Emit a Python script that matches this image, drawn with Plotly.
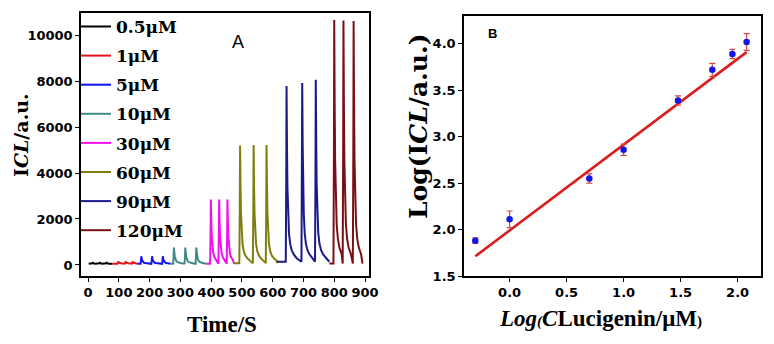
import plotly.graph_objects as go

# ---------------- Panel A data ----------------
series_names = ["0.5\u03bcM", "1\u03bcM", "5\u03bcM", "10\u03bcM", "30\u03bcM", "60\u03bcM", "90\u03bcM", "120\u03bcM"]
series_colors = ["#000000", "#e3141c", "#1010f0", "#3f8a84", "#f010f0", "#7f7f10", "#1a1a8a", "#7a1016"]
seg_start = [2, 78, 160, 268, 385, 475, 614, 784]
seg_end = [78, 160, 268, 385, 475, 614, 784, 892]
base_level = [50, 55, 50, 50, 50, 80, 140, 60]
peak_times = [
    [15, 38, 60],
    [98, 122, 145],
    [173, 208, 243],
    [279, 316, 352],
    [399, 426, 453],
    [494, 538, 580],
    [645, 696, 740],
    [800, 830, 863],
]
peak_heights = [
    [95, 95, 95],
    [150, 150, 150],
    [380, 380, 380],
    [760, 760, 760],
    [2850, 2850, 2850],
    [5200, 5220, 5220],
    [7780, 7920, 8060],
    [10660, 10630, 10610],
]
# peak profile (offset in s, fraction of peak above baseline)
rise_offsets = [-2.5, -1.0, 0.0]
rise_fracs = [0.0, 0.45, 1.0]
decay_offsets = [1.5, 3, 5, 8, 12, 17, 24, 33]
decay_fracs = [0.65, 0.42, 0.27, 0.16, 0.1, 0.065, 0.04, 0.02]

# ---------------- Panel B data ----------------
log_conc = [-0.301, 0.0, 0.699, 1.0, 1.477, 1.778, 1.954, 2.079]
log_icl = [1.88, 2.11, 2.55, 2.86, 3.39, 3.72, 3.89, 4.02]
log_icl_err = [0.03, 0.09, 0.05, 0.06, 0.05, 0.07, 0.05, 0.09]
fit_slope = 0.924
fit_intercept = 1.99

W, H = 774, 344

fig = go.Figure()

for i, name in enumerate(series_names):
    xs = [seg_start[i]]
    ys = [base_level[i]]
    pts = peak_times[i]
    for j, tp in enumerate(pts):
        amp = peak_heights[i][j] - base_level[i]
        nxt = pts[j + 1] - 3 if j + 1 < len(pts) else seg_end[i]
        for o, f in zip(rise_offsets, rise_fracs):
            xs.append(tp + o)
            ys.append(base_level[i] + amp * f)
        for o, f in zip(decay_offsets, decay_fracs):
            if tp + o < nxt:
                xs.append(tp + o)
                ys.append(base_level[i] + amp * f)
    xs.append(seg_end[i])
    ys.append(base_level[i])
    fig.add_trace(go.Scatter(
        x=xs, y=ys, mode="lines", name=name, legendgroup=name,
        line=dict(color=series_colors[i], width=2),
        xaxis="x", yaxis="y",
    ))

fit_x = [log_conc[0], log_conc[-1]]
fit_y = [fit_intercept + fit_slope * v for v in fit_x]
fig.add_trace(go.Scatter(
    x=fit_x, y=fit_y, mode="lines", showlegend=False,
    line=dict(color="#dc1c1c", width=2.6), xaxis="x2", yaxis="y2",
))
fig.add_trace(go.Scatter(
    x=log_conc, y=log_icl, mode="markers", showlegend=False,
    marker=dict(color="#1515e8", size=6.5),
    error_y=dict(type="data", array=log_icl_err, color="#d04a4a", thickness=1.2, width=3),
    xaxis="x2", yaxis="y2",
))

tickfont = dict(family="DejaVu Sans", size=13, color="black", weight="bold")
axis_common = dict(showline=True, linecolor="black", linewidth=1.5, mirror=True,
                   ticks="outside", ticklen=4, tickwidth=1.3, tickcolor="black",
                   showgrid=False, zeroline=False, tickfont=tickfont, automargin=False)


def px(xp, yp):
    return xp / W, 1 - yp / H


annots = []
x0, y0 = px(21, 135)
annots.append(dict(text="I<i>CL</i>/a.u.", x=x0, y=y0, textangle=-90,
                   font=dict(family="DejaVu Serif", size=19, color="black", weight="bold")))
x0, y0 = px(418, 126)
annots.append(dict(text="Log(I<i>CL</i>/a.u.)", x=x0, y=y0, textangle=-90,
                   font=dict(family="DejaVu Serif", size=25, color="black", weight="bold")))
x0, y0 = px(222, 324)
annots.append(dict(text="Time/S", x=x0, y=y0,
                   font=dict(family="Liberation Serif", size=23, color="black", weight="bold")))
x0, y0 = px(600, 318)
annots.append(dict(text="<i>Log<span style='font-size:15px'>(</span>C</i>Lucigenin/\u03bcM<span style='font-size:15px'>)</span>",
                   x=x0, y=y0,
                   font=dict(family="Liberation Serif", size=23, color="black", weight="bold")))
x0, y0 = px(238, 42)
annots.append(dict(text="A", x=x0, y=y0, font=dict(family="Liberation Sans", size=18, color="black")))
x0, y0 = px(493, 34)
annots.append(dict(text="B", x=x0, y=y0, font=dict(family="Liberation Sans", size=13, color="black", weight="bold")))
for a in annots:
    a.update(xref="paper", yref="paper", showarrow=False, xanchor="center", yanchor="middle")

fig.update_layout(
    width=W, height=H,
    margin=dict(l=0, r=0, t=0, b=0, autoexpand=False),
    paper_bgcolor="white", plot_bgcolor="white",
    showlegend=True,
    legend=dict(
        x=0.0982, y=0.974, xanchor="left", yanchor="top",
        bgcolor="rgba(0,0,0,0)", borderwidth=0,
        font=dict(family="DejaVu Serif", size=17, color="black", weight="bold"),
        traceorder="grouped", tracegroupgap=4, itemwidth=30,
    ),
    xaxis=dict(domain=[81 / W, 369 / W], range=[-23, 913], anchor="y",
               tickvals=[0, 100, 200, 300, 400, 500, 600, 700, 800, 900], **axis_common),
    yaxis=dict(domain=[1 - 276 / H, 1 - 13 / H], range=[-480, 10960], anchor="x",
               tickvals=[0, 2000, 4000, 6000, 8000, 10000], tickformat="d", **axis_common),
    xaxis2=dict(domain=[464 / W, 761 / W], range=[-0.40, 2.205], anchor="y2",
                tickvals=[0.0, 0.5, 1.0, 1.5, 2.0], tickformat=".1f", **axis_common),
    yaxis2=dict(domain=[1 - 276 / H, 1 - 16 / H], range=[1.5, 4.30], anchor="x2",
                tickvals=[1.5, 2.0, 2.5, 3.0, 3.5, 4.0], tickformat=".1f", **axis_common),
    annotations=annots,
)

fig.write_html("out.html", config={"displayModeBar": False},
               post_script="document.body.style.margin='0px';")
